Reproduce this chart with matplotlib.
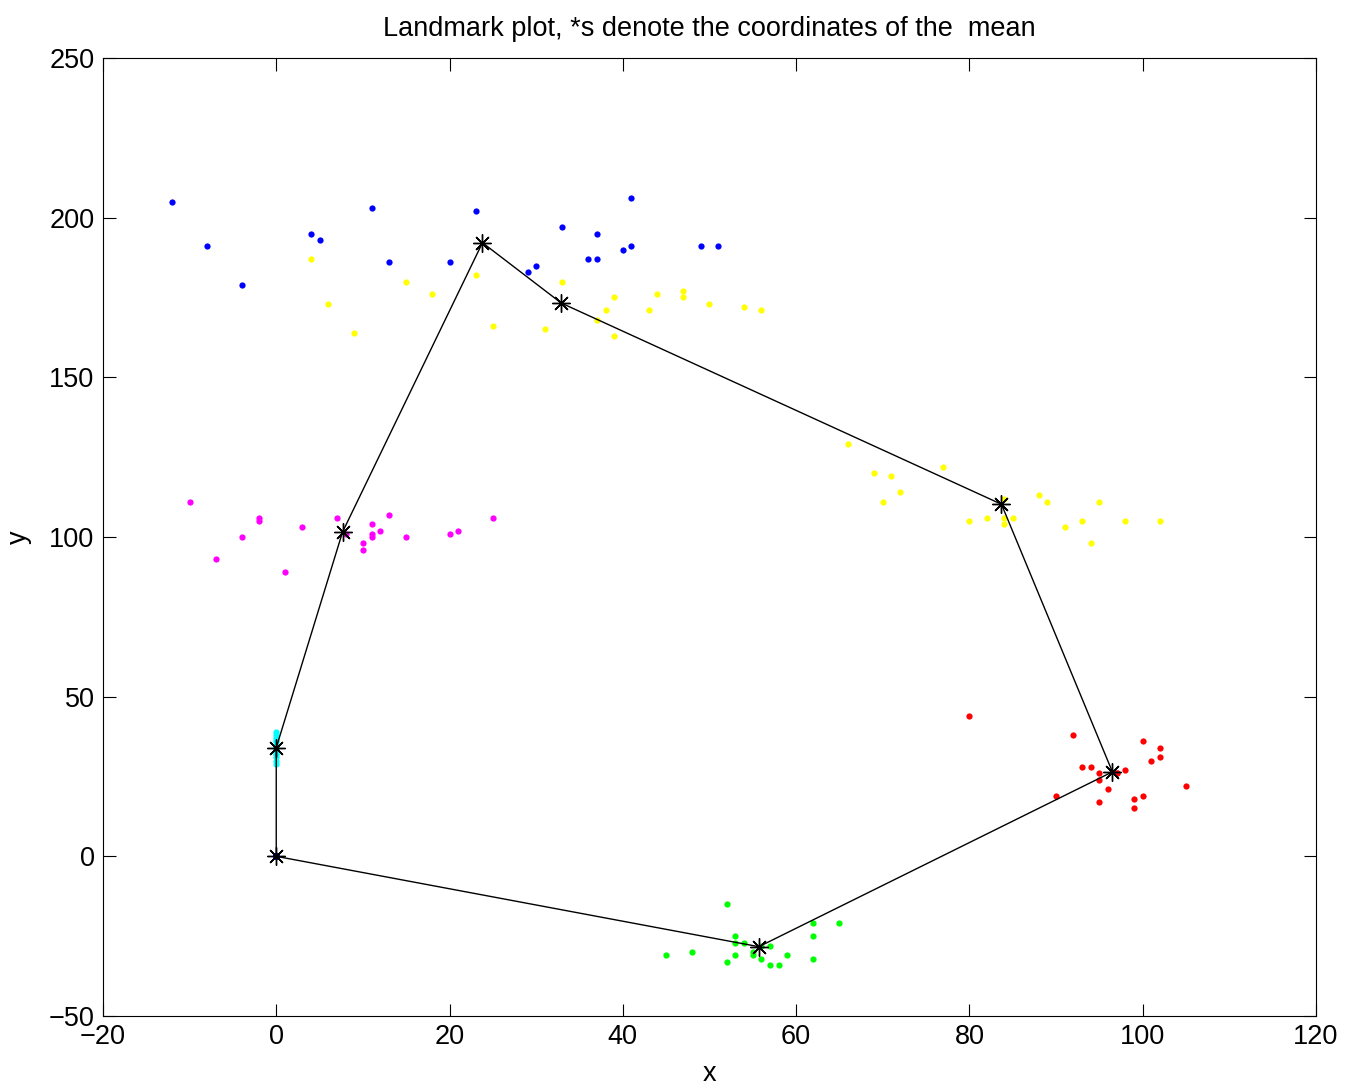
import numpy as np
import matplotlib
matplotlib.use('Agg')
import matplotlib.pyplot as plt

plt.rcParams['font.family'] = ['Liberation Sans', 'DejaVu Sans']

# landmark samples, one list pair per landmark (in polygon order)
origin_x = [0] * 20
origin_y = [0] * 20

green_x = [52, 45, 48, 53, 53, 54, 53, 52, 55, 55, 56, 57, 57, 58, 59, 62, 62, 62, 65, 56]
green_y = [-15, -31, -30, -25, -27, -27, -31, -33, -30, -31, -32, -28, -34, -34, -31, -21, -25, -32, -21, -28]

red_x = [80, 92, 93, 94, 95, 95, 96, 90, 95, 97, 100, 102, 101, 102, 99, 100, 99, 105, 97, 98]
red_y = [44, 38, 28, 28, 26, 24, 21, 19, 17, 26, 36, 34, 30, 31, 18, 19, 15, 22, 26, 27]

yel2_x = [66, 69, 71, 72, 70, 77, 80, 82, 84, 84, 84, 85, 88, 89, 91, 93, 94, 95, 98, 102]
yel2_y = [129, 120, 119, 114, 111, 122, 105, 106, 112, 106, 104, 106, 113, 111, 103, 105, 98, 111, 105, 105]

yel1_x = [4, 6, 9, 15, 18, 23, 25, 31, 33, 39, 38, 37, 39, 44, 43, 47, 47, 50, 54, 56]
yel1_y = [187, 173, 164, 180, 176, 182, 166, 165, 180, 175, 171, 168, 163, 176, 171, 177, 175, 173, 172, 171]

blue_x = [-12, -8, -4, 4, 5, 11, 13, 20, 23, 29, 30, 33, 37, 36, 37, 40, 41, 41, 49, 51]
blue_y = [205, 191, 179, 195, 193, 203, 186, 186, 202, 183, 185, 197, 195, 187, 187, 190, 191, 206, 191, 191]

mag_x = [-10, -7, -4, -2, -2, 1, 3, 7, 8, 10, 10, 11, 11, 11, 12, 13, 15, 20, 21, 25]
mag_y = [111, 93, 100, 106, 105, 89, 103, 106, 101, 98, 96, 104, 101, 100, 102, 107, 100, 101, 102, 106]

cyan_x = [0] * 20
cyan_y = [39, 38, 37, 36, 36, 35, 35, 35, 34, 34, 34, 34, 33, 33, 33, 32, 32, 31, 30, 29]

landmarks = [
    (origin_x, origin_y, 'b'),
    (green_x, green_y, '#00ff00'),
    (red_x, red_y, 'r'),
    (yel2_x, yel2_y, 'yellow'),
    (yel1_x, yel1_y, 'yellow'),
    (blue_x, blue_y, 'b'),
    (mag_x, mag_y, 'magenta'),
    (cyan_x, cyan_y, 'cyan'),
]

FS = 19.5


def main():
    fig = plt.figure(figsize=(13.51, 10.9), dpi=100)
    ax = fig.add_axes([0.0762, 0.0679, 0.8979, 0.8789])

    mx, my = [], []
    for xs, ys, c in landmarks:
        ax.plot(xs, ys, 'o', color=c, markersize=4.5, markeredgewidth=0)
        mx.append(np.mean(xs))
        my.append(np.mean(ys))

    # closed polygon through the means
    px = mx + [mx[0]]
    py = my + [my[0]]
    ax.plot(px, py, 'k-', linewidth=1.0)
    # matlab style asterisk: 8 spokes
    ax.plot(mx, my, linestyle='none', marker=(8, 2, 0), color='k',
            markersize=13, markeredgewidth=1.0)

    ax.set_xlim(-20, 120)
    ax.set_ylim(-50, 250)
    ax.set_xticks(np.arange(-20, 121, 20))
    ax.set_yticks(np.arange(-50, 251, 50))
    ax.tick_params(direction='in', top=True, right=True, length=9,
                   labelsize=FS, width=0.8, pad=6)
    ax.set_xticklabels(['\u221220', '0', '20', '40', '60', '80', '100', '120'])
    ax.set_yticklabels(['\u221250', '0', '50', '100', '150', '200', '250'])
    for s in ax.spines.values():
        s.set_linewidth(0.8)

    ax.set_title('Landmark plot, *s denote the coordinates of the  mean',
                 fontsize=FS, pad=16)
    ax.set_xlabel('x', fontsize=FS, labelpad=8)
    ax.set_ylabel('y', fontsize=FS, labelpad=12)

    fig.savefig('out.png', dpi=100)


if __name__ == '__main__':
    main()
